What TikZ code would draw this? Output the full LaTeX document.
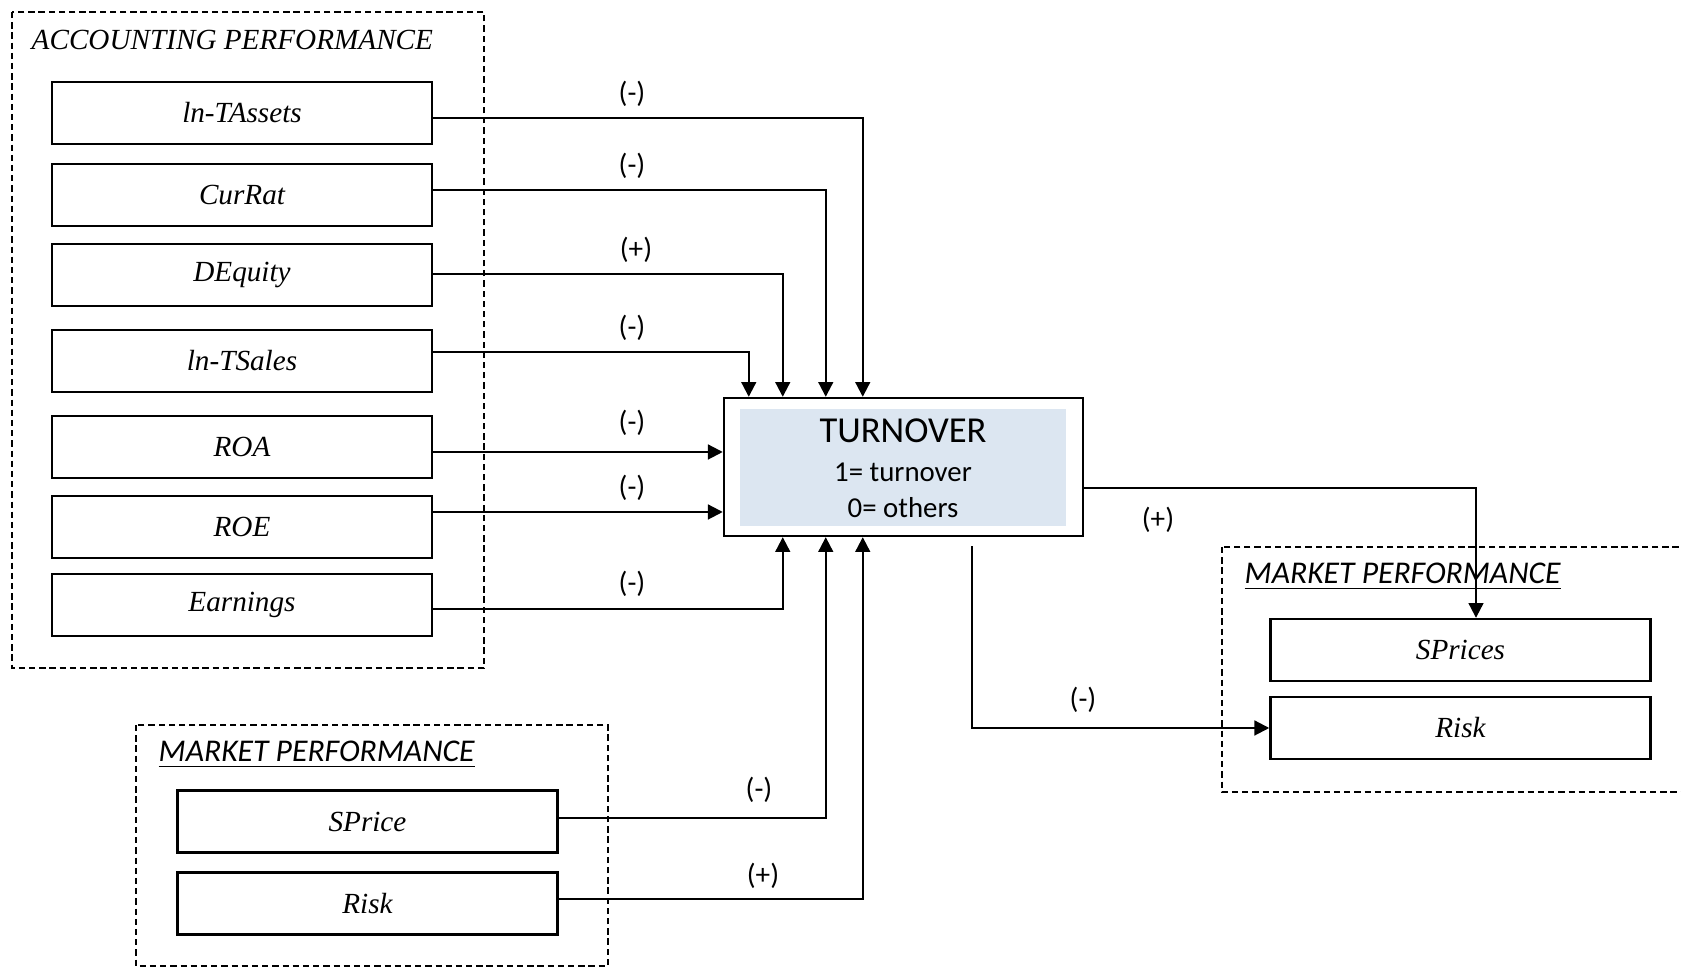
\documentclass[tikz,border=0pt]{standalone}
\usepackage{fontspec}
\setmainfont{Liberation Serif}
\newfontfamily\calibri{Carlito}
\usetikzlibrary{arrows.meta,calc}

\definecolor{turnblue}{RGB}{220,230,241}

\begin{document}
\begin{tikzpicture}[x=0.01cm, y=-0.01cm,
	varbox/.style={draw, line width=0.65pt, minimum width=3.8cm, minimum height=0.62cm, inner sep=0pt, font=\fontsize{8.3}{10}\selectfont\itshape},
	group/.style={draw, line width=0.5pt, dash pattern=on 1.8pt off 1.1pt},
	grouptitle/.style={anchor=west, inner sep=0pt},
	arr/.style={line width=0.6pt, -{Triangle[length=4.2pt,width=4.2pt]}},
	sign/.style={inner sep=0pt, font=\calibri\fontsize{8.3}{10}\selectfont}]
				\clip (0,0) rectangle (1681,968);
				\draw[group] (12,12) rectangle (484,668);
				\draw[group] (136,725) rectangle (608,966);
				\draw[group] (1222,547) rectangle (1700,792);
				\node[grouptitle, font=\fontsize{8.3}{10}\selectfont\itshape] (acctitle) at (31,40) {ACCOUNTING PERFORMANCE};
				\node[grouptitle, font=\calibri\fontsize{9}{11}\selectfont\itshape] (mkttitlel) at (158,755) {\underline{MARKET PERFORMANCE}};
				\node[grouptitle, font=\calibri\fontsize{9}{11}\selectfont\itshape] (mkttitler) at (1244,577) {\underline{MARKET PERFORMANCE}};

				\node[varbox] (tassets) at (242,113) {ln-TAssets};
				\node[varbox] (currat) at (242,195) {CurRat};
				\node[varbox] (dequity) at (242,275) {DEquity};
				\node[varbox] (tsales) at (242,361) {ln-TSales};
				\node[varbox] (roa) at (242,447) {ROA};
				\node[varbox] (roe) at (242,527) {ROE};
				\node[varbox] (earn) at (242,605) {Earnings};
				\node[varbox] (sprice) at (367.5,821.5) {SPrice};
				\node[varbox] (riskl) at (367.5,903.5) {Risk};
				\node[varbox] (sprices) at (1460.5,650) {SPrices};
				\node[varbox] (riskr) at (1460.5,728) {Risk};

				\node[draw, line width=0.65pt, minimum width=3.59cm, minimum height=1.38cm] (turn) at (903.5,467) {};
				\node[fill=turnblue, minimum width=3.26cm, minimum height=1.17cm] (turnin) at (903,467.5) {};
				\node[anchor=base, inner sep=0pt, font=\calibri\fontsize{10.4}{12}\selectfont] (turnname) at (903,443) {TURNOVER};
				\node[anchor=base, inner sep=0pt, font=\calibri\fontsize{8.2}{10}\selectfont] (turnone) at (903,482) {1= turnover};
				\node[anchor=base, inner sep=0pt, font=\calibri\fontsize{8.2}{10}\selectfont] (turnzero) at (903,518) {0= others};

				\coordinate (roaout) at ($(roa.east)+(0,5)$);
				\coordinate (roeout) at ($(roe.east)+(0,-15)$);
				\draw[arr] ($(tassets.east)+(0,5)$) -| ($(turn.north west)+(140,0)$);
				\draw[arr] ($(currat.east)+(0,-5)$) -| ($(turn.north west)+(103,0)$);
				\draw[arr] ($(dequity.east)+(0,-1)$) -| ($(turn.north west)+(60,0)$);
				\draw[arr] ($(tsales.east)+(0,-9)$) -| ($(turn.north west)+(26,0)$);
				\draw[arr] (roaout) -- (roaout -| turn.west);
				\draw[arr] (roeout) -- (roeout -| turn.west);
				\draw[arr] ($(earn.east)+(0,4)$) -| ($(turn.south west)+(60,0)$);
				\draw[arr] ($(sprice.east)+(0,-3.5)$) -| ($(turn.south west)+(103,0)$);
				\draw[arr] ($(riskl.east)+(0,-4.5)$) -| ($(turn.south west)+(140,0)$);
				\draw[arr] ($(turn.east)+(0,21)$) -| ($(sprices.north)+(15.5,0)$);
				\draw[arr] ($(turn.south west)+(249,9)$) |- (riskr.west);

				\node[sign] (stassets) at (632,94) {(-)};
				\node[sign] (scurrat) at (632,166) {(-)};
				\node[sign] (sdequity) at (636,250) {(+)};
				\node[sign] (stsales) at (632,328) {(-)};
				\node[sign] (sroa) at (632,423) {(-)};
				\node[sign] (sroe) at (632,488) {(-)};
				\node[sign] (searn) at (632,584) {(-)};
				\node[sign] (ssprice) at (759,790) {(-)};
				\node[sign] (sriskl) at (763,876) {(+)};
				\node[sign] (ssprices) at (1158,520) {(+)};
				\node[sign] (sriskr) at (1083,700) {(-)};
			\end{tikzpicture}
\end{document}
